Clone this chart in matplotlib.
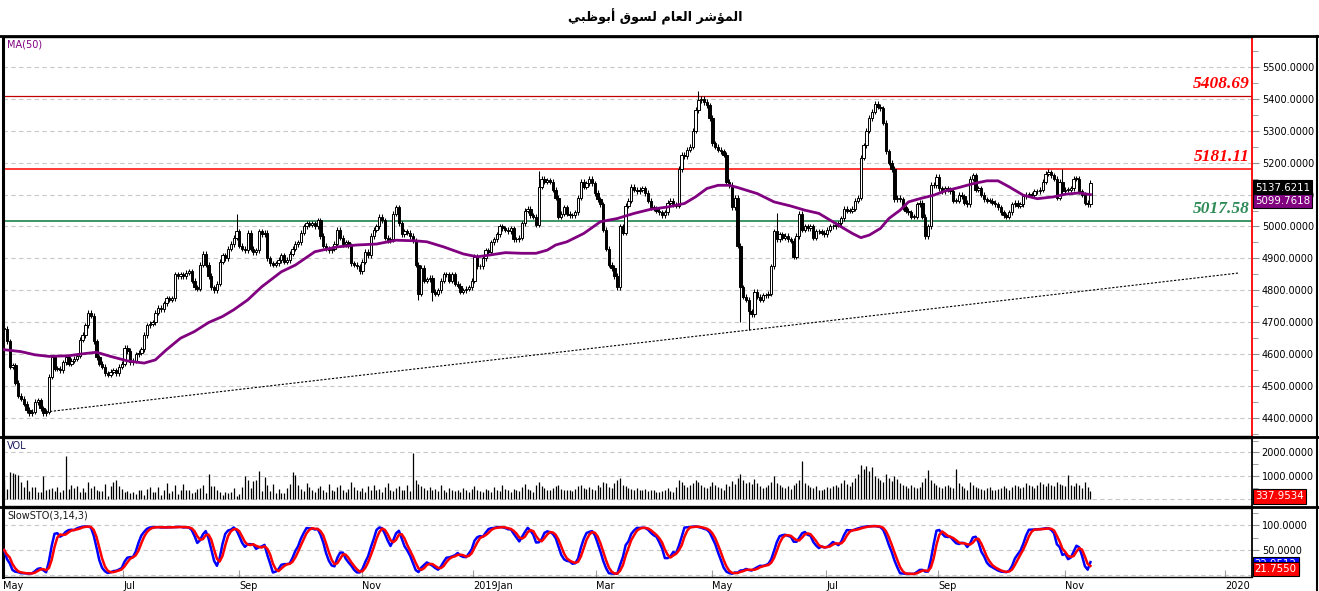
import numpy as np
import pandas as pd
import matplotlib
matplotlib.use("Agg")
import matplotlib.pyplot as plt
from matplotlib.ticker import MultipleLocator, FixedLocator, FormatStrFormatter

# daily closes of the index (May 2018 - Nov 2019)
closes = [
    4680, 4640, 4560, 4565, 4510, 4470, 4460, 4445, 4425, 4415,
    4420, 4450, 4455, 4430, 4415, 4420, 4530, 4590, 4555, 4555,
    4550, 4575, 4590, 4570, 4580, 4585, 4595, 4645, 4660, 4690,
    4730, 4720, 4640, 4590, 4570, 4560, 4540, 4535, 4545, 4550,
    4540, 4560, 4570, 4620, 4610, 4575, 4580, 4600, 4605, 4615,
    4660, 4690, 4695, 4700, 4730, 4745, 4740, 4760, 4775, 4770,
    4775, 4850, 4845, 4850, 4845, 4855, 4860, 4830, 4810, 4805,
    4880, 4915, 4880, 4845, 4810, 4800, 4820, 4890, 4910, 4900,
    4930, 4945, 4965, 4985, 4940, 4930, 4925, 4980, 4930, 4920,
    4925, 4985, 4975, 4980, 4900, 4885, 4880, 4885, 4895,
    4910, 4890, 4895, 4915, 4930, 4945, 4950, 4980, 5000, 5010,
    5005, 5010, 5000, 5020, 4970, 4940, 4930, 4925, 4930, 4945,
    4990, 4965, 4945, 4950, 4940, 4885, 4880, 4875, 4860, 4890,
    4920, 4910, 4970, 4990, 5000, 5030, 5020, 4965, 4955, 4960,
    5040, 5060, 5010, 4975, 4985, 4980, 4970, 4955, 4880, 4790,
    4870, 4830, 4835, 4840, 4795, 4790, 4800, 4830, 4850, 4850,
    4830, 4850, 4820, 4815, 4795, 4800, 4805, 4810, 4830, 4905,
    4875, 4875, 4900, 4925, 4920, 4950, 4960, 4975, 5000, 4995,
    4990, 4985, 4995, 4960, 4960, 4965, 5010, 5050, 5055, 5035,
    5030, 5005, 5125, 5150, 5140, 5145, 5140, 5115, 5090, 5030,
    5040, 5060, 5040, 5035, 5035, 5045, 5090, 5140, 5125, 5135,
    5150, 5135, 5105, 5085, 5070, 4990, 4930, 4880, 4870, 4845,
    4810, 5000, 4980, 5065, 5080, 5125, 5115, 5110, 5115, 5120,
    5105, 5080, 5060, 5055, 5050, 5045, 5035, 5045, 5075, 5080,
    5070, 5065, 5180, 5225, 5220, 5240, 5250, 5300, 5365, 5395,
    5400, 5390, 5380, 5340, 5260, 5250, 5240, 5235, 5225, 5140,
    5130, 5060, 5090, 4940, 4810, 4780, 4770, 4735, 4725, 4795,
    4780, 4770, 4785, 4785, 4790, 4875, 4985, 4960, 4975, 4965,
    4970, 4960, 4955, 4905, 4970, 5040, 4990, 5000, 4995, 5000,
    4965, 4985, 4985, 4980, 4975, 4990, 5000, 5000, 5005, 5010,
    5025, 5055, 5050, 5050, 5055, 5080, 5090, 5215, 5255, 5300,
    5340, 5360, 5385, 5375, 5370, 5325, 5235, 5200, 5180, 5085,
    5090, 5085, 5060, 5050, 5045, 5030, 5030, 5070, 5075, 5030,
    4970, 5000, 5130, 5130, 5155, 5120, 5110, 5120, 5115, 5110,
    5080, 5080, 5100, 5095, 5075, 5070, 5150, 5160, 5115, 5120,
    5100, 5085, 5080, 5080, 5075, 5070, 5060, 5045, 5035, 5030,
    5045, 5070, 5075, 5065, 5070, 5095, 5100, 5100, 5100, 5110,
    5110, 5115, 5140, 5165, 5170, 5160, 5150, 5090, 5140, 5110,
    5115, 5115, 5120, 5150, 5150, 5110, 5100, 5075, 5070, 5137.6211,
]

# long wicks that stand out on the chart
wick_hi_bars = [83, 191, 248, 276, 373, 378]
wick_hi_vals = [5040, 5173, 5425, 5041, 5181, 5181]
wick_lo_bars = [148, 153, 263, 266]
wick_lo_vals = [4770, 4765, 4702, 4676]

volume = [
    822, 425, 1163, 1134, 1078, 1035, 737, 510, 822, 355,
    510, 510, 312, 312, 993, 411, 440, 468, 340, 510,
    312, 397, 1843, 425, 610, 468, 567, 312, 468, 312,
    737, 468, 567, 383, 369, 355, 652, 142, 567, 752,
    822, 567, 425, 298, 369, 255, 312, 227, 397, 397,
    184, 425, 510, 298, 326, 510, 184, 397, 681, 255,
    355, 610, 227, 397, 638, 397, 397, 255, 326, 425,
    468, 610, 255, 1078, 567, 567, 397, 326, 184, 326,
    284, 326, 468, 142, 213, 510, 993, 822, 468, 780,
    822, 1205, 355, 964, 610, 355, 652, 255, 425, 284,
    284, 468, 652, 1149, 1035,
    620, 450, 360, 700, 520, 410,
    330, 480, 560, 390, 300, 650, 420, 350, 520, 610,
    380, 300, 450, 720, 540, 400, 360, 480, 330, 560,
    420, 600, 380, 450, 300, 520, 700, 410, 360, 480,
    550, 380, 420, 600, 350, 1980, 820, 650, 560, 480,
    400, 520, 380, 450, 340, 600, 420, 310, 470, 390,
    360, 420, 300, 500, 380, 330, 450, 560, 410, 370,
    320, 450, 380, 300, 520, 410, 350, 600, 430, 380,
    300, 460, 390, 340, 520, 640, 450, 380, 330, 600,
    720, 560, 480, 420, 380, 500, 560, 620, 450, 400,
    380, 420, 350, 460, 560, 620, 480, 430, 520, 460,
    420, 600, 520, 760, 680, 540, 480, 700, 820, 900,
    620, 560, 500, 450, 400, 480, 380, 420, 460, 350,
    380, 420, 330, 300, 360, 420, 480, 350, 300, 520,
    820, 760, 600, 540, 620, 700, 820, 760, 600, 520,
    480, 560, 720, 600, 540, 480, 420, 660, 560, 780,
    640, 900, 1100, 820, 700, 760, 650, 880, 700, 560,
    480, 520, 600, 760, 980, 700, 620, 520, 480, 560,
    460, 600, 700, 820, 1650, 700, 600, 520, 480, 560,
    420, 380, 460, 520, 480, 560, 620, 540, 700, 820,
    640, 560, 720, 900, 1100, 1450, 1300, 1420, 1200, 1380,
    1000, 900, 820, 760, 1100, 900, 780, 1000, 860, 700,
    620, 560, 500, 600, 540, 480, 520, 760, 900, 1250,
    820, 700, 600, 540, 480, 560, 620, 520, 480, 1300,
    700, 560, 480, 420, 760, 600, 520, 480, 440, 400,
    480, 520, 420, 380, 450, 500, 560, 480, 420, 520,
    600, 560, 480, 520, 680, 620, 560, 500, 600, 720,
    660, 580, 700, 620, 560, 760, 640, 600, 580, 1050,
    620, 560, 680, 600, 480, 760, 520, 337.9534,
]

# MA(50) line read at bar positions
ma_bars = [0, 6, 11, 16, 23, 28, 33, 38, 44, 50, 54, 58, 63, 68, 73, 78, 82, 87, 92, 99,
           104, 111, 119, 126, 133, 140, 147, 151, 157, 164, 169, 173, 179, 185, 190, 194,
           197, 201, 207, 213, 219, 225, 231, 237, 243, 247, 251, 255, 259, 262, 269, 275,
           281, 286, 291, 295, 298, 303, 306, 309, 313, 316, 320, 323, 327, 332, 336, 341,
           346, 351, 355, 359, 364, 369, 375, 379, 384, 388]
ma_vals = [4614, 4608, 4598, 4593, 4595, 4601, 4606, 4593, 4579, 4572, 4582, 4614, 4650, 4671,
           4699, 4718, 4739, 4770, 4811, 4858, 4879, 4921, 4936, 4942, 4945, 4957, 4955, 4952,
           4936, 4914, 4905, 4910, 4918, 4916, 4916, 4926, 4942, 4952, 4978, 5015, 5025, 5041,
           5054, 5061, 5072, 5093, 5119, 5129, 5129, 5122, 5103, 5077, 5064, 5051, 5041, 5020,
           5004, 4978, 4965, 4973, 4994, 5025, 5051, 5077, 5087, 5098, 5111, 5122, 5134, 5143,
           5143, 5124, 5098, 5087, 5093, 5101, 5105, 5099.7618]

month_pos = [-0.3, 42.5, 83.9, 127.9, 167.5, 211.4, 252.9, 293.6, 333.6, 378.9, 436.1]
month_labels = ['May', 'Jul', 'Sep', 'Nov', '2019Jan', 'Mar', 'May', 'Jul', 'Sep', 'Nov', '2020']

levels = [5408.69, 5181.11, 5017.58]
level_colors = ['#c00000', '#ff2a2a', '#2e8b57']
label_colors = ['#ff0000', '#ff0000', '#2e8b57']

trend_x = [15, 440.7]
trend_y = [4419, 4854]

sto_last = [22.9512, 21.7550]   # readouts on the right scale (blue, red)

title = 'المؤشر العام لسوق أبوظبي'

# tiny arabic shaper: presentation forms (isolated, final, initial, medial)
FORMS = {
    'ا': (0xFE8D, 0xFE8E), 'أ': (0xFE83, 0xFE84), 'ؤ': (0xFE85, 0xFE86),
    'ر': (0xFEAD, 0xFEAE), 'و': (0xFEED, 0xFEEE),
    'ل': (0xFEDD, 0xFEDE, 0xFEDF, 0xFEE0), 'م': (0xFEE1, 0xFEE2, 0xFEE3, 0xFEE4),
    'ش': (0xFEB5, 0xFEB6, 0xFEB7, 0xFEB8), 'ع': (0xFEC9, 0xFECA, 0xFECB, 0xFECC),
    'س': (0xFEB1, 0xFEB2, 0xFEB3, 0xFEB4), 'ق': (0xFED5, 0xFED6, 0xFED7, 0xFED8),
    'ب': (0xFE8F, 0xFE90, 0xFE91, 0xFE92), 'ظ': (0xFEC5, 0xFEC6, 0xFEC7, 0xFEC8),
    'ي': (0xFEF1, 0xFEF2, 0xFEF3, 0xFEF4),
}


def shape_arabic(text):
    out = []
    for k, ch in enumerate(text):
        f = FORMS.get(ch)
        if f is None:
            out.append(ch)
            continue
        prev = text[k - 1] if k > 0 else ''
        nxt = text[k + 1] if k + 1 < len(text) else ''
        jp = prev in FORMS and len(FORMS[prev]) == 4
        jn = len(f) == 4 and nxt in FORMS
        if jp and jn:
            code = f[3]
        elif jp:
            code = f[1]
        elif jn:
            code = f[2]
        else:
            code = f[0]
        out.append(chr(code))
    return ''.join(out)[::-1]


plt.rcParams['font.family'] = ['DejaVu Sans']

W, H = 1319, 591
fig = plt.figure(figsize=(W / 100, H / 100), dpi=100)
ax_p = fig.add_axes([3 / W, (H - 436) / H, 1249 / W, 399 / H])
ax_v = fig.add_axes([3 / W, (H - 506) / H, 1249 / W, 68 / H])
ax_s = fig.add_axes([3 / W, (H - 577) / H, 1249 / W, 69 / H])

c = np.array(closes, dtype=float)
n = len(c)
x = np.arange(n)
o = np.r_[c[0], c[:-1]]
wick = 8
hi = np.maximum(o, c) + wick
lo = np.minimum(o, c) - wick
hi[wick_hi_bars] = np.maximum(hi[wick_hi_bars], wick_hi_vals)
lo[wick_lo_bars] = np.minimum(lo[wick_lo_bars], wick_lo_vals)
up = c >= o

grid_kw = dict(color='#c8c8c8', lw=0.8, ls=(0, (4, 3)), zorder=0)

# ---- price panel ----
for lv in range(4400, 5600, 100):
    ax_p.axhline(lv, **grid_kw)
ax_p.vlines(x, lo, hi, color='black', lw=0.75, zorder=2)
ax_p.bar(x, np.maximum(np.abs(c - o), 1.5), bottom=np.minimum(o, c), width=0.85,
         color=np.where(up, 'white', 'black'), edgecolor='black', linewidth=0.7, zorder=3)
ax_p.plot(ma_bars, ma_vals, color='#800080', lw=2.0, zorder=4)
for lv, col, lcol, lw in zip(levels, level_colors, label_colors, [0.9, 1.3, 1.3]):
    ax_p.axhline(lv, color=col, lw=lw, zorder=1)
    ax_p.annotate(f'{lv:.2f}', xy=(1, lv), xycoords=('axes fraction', 'data'),
                  xytext=(-2, 3), textcoords='offset points', ha='right', va='bottom',
                  fontsize=12.5, fontweight='bold', fontstyle='italic',
                  family='Liberation Serif', color=lcol)
ax_p.plot(trend_x, trend_y, color='black', lw=0.8, ls=(0, (2, 1.5)), zorder=1)

ax_p.set_xlim(-0.4, 445.7)
ax_p.set_ylim(4343.6, 5593.6)
ax_p.annotate('MA(50)', xy=(0, 1), xycoords='axes fraction', xytext=(3, -2),
              textcoords='offset points', va='top', fontsize=7, color='#800080')

box = dict(boxstyle='square,pad=0.22', lw=0.8)
ax_p.annotate(f'{c[-1]:.4f}', xy=(1, c[-1]), xycoords=('axes fraction', 'data'),
              xytext=(2, 0), textcoords='offset points', va='top', ha='left', fontsize=7.4,
              color='white', bbox=dict(box, fc='black', ec='black'), annotation_clip=False, zorder=6)
ax_p.annotate(f'{ma_vals[-1]:.4f}', xy=(1, ma_vals[-1]), xycoords=('axes fraction', 'data'),
              xytext=(2, -1), textcoords='offset points', va='top', ha='left', fontsize=7.4,
              color='white', bbox=dict(box, fc='#800080', ec='black'), annotation_clip=False, zorder=6)

# ---- volume panel ----
for lv in [0, 1000, 2000]:
    ax_v.axhline(lv, **grid_kw)
ax_v.vlines(np.arange(len(volume)), 0, volume, color='black', lw=0.9, zorder=2)
ax_v.set_xlim(-0.4, 445.7)
ax_v.set_ylim(-280, 2609)
ax_v.annotate('VOL', xy=(0, 1), xycoords='axes fraction', xytext=(3, -2),
              textcoords='offset points', va='top', fontsize=7, color='#1a1a60')
ax_v.annotate(f'{volume[-1]:.4f}', xy=(1, volume[-1]), xycoords=('axes fraction', 'data'),
              xytext=(2, 0), textcoords='offset points', va='top', ha='left', fontsize=7.4,
              color='white', bbox=dict(box, fc='#ff0000', ec='black'), annotation_clip=False, zorder=6)

# ---- slow stochastic (3,14,3) ----
hh = pd.Series(hi).rolling(14, min_periods=1).max()
ll = pd.Series(lo).rolling(14, min_periods=1).min()
k_raw = 100 * (pd.Series(c) - ll) / (hh - ll)
k_slow = k_raw.rolling(3, min_periods=1).mean()
d_line = k_slow.rolling(3, min_periods=1).mean()

for lv in [0, 50, 100]:
    ax_s.axhline(lv, **grid_kw)
ax_s.plot(x, k_slow, color='#0000ff', lw=1.8, zorder=3)
ax_s.plot(x, d_line, color='#ff0000', lw=1.8, zorder=4)
ax_s.set_xlim(-0.4, 445.7)
ax_s.set_ylim(-4, 134)
ax_s.annotate('SlowSTO(3,14,3)', xy=(0, 1), xycoords='axes fraction', xytext=(3, -2),
              textcoords='offset points', va='top', fontsize=7, color='#1a1a1a')
ax_s.annotate(f'{sto_last[0]:.4f}', xy=(1, sto_last[0]), xycoords=('axes fraction', 'data'),
              xytext=(2, 3), textcoords='offset points', va='top', ha='left', fontsize=7.4,
              color='white', bbox=dict(box, fc='#0000ff', ec='black'), annotation_clip=False, zorder=6)
ax_s.annotate(f'{sto_last[1]:.4f}', xy=(1, sto_last[1]), xycoords=('axes fraction', 'data'),
              xytext=(2, 0), textcoords='offset points', va='top', ha='left', fontsize=7.4,
              color='white', bbox=dict(box, fc='#ff0000', ec='black'), annotation_clip=False, zorder=7)

# ---- axes cosmetics ----
for ax, major, minor, ticks in [(ax_p, 100, 50, None), (ax_v, 1000, 500, [1000, 2000]),
                                (ax_s, 50, 25, [50, 100])]:
    ax.yaxis.tick_right()
    if ticks is None:
        ax.yaxis.set_major_locator(MultipleLocator(major))
    else:
        ax.yaxis.set_major_locator(FixedLocator(ticks))
    ax.yaxis.set_minor_locator(MultipleLocator(minor))
    ax.yaxis.set_major_formatter(FormatStrFormatter('%.4f'))
    ax.tick_params(axis='y', which='both', direction='out', length=5, color='#909090',
                   labelsize=7, pad=2, labelcolor='black')
    ax.tick_params(axis='y', which='minor', length=4)
    for side in ['left', 'top', 'bottom']:
        ax.spines[side].set_linewidth(1.0)
        ax.spines[side].set_color('black')
    ax.spines['left'].set_linewidth(2.2)
    ax.spines['right'].set_linewidth(1.3)
    ax.spines['right'].set_color('black')
    ax.set_xticks([])

ax_p.spines['right'].set_color('#ff0000')

ax_s.set_xticks(month_pos)
ax_s.set_xticklabels(month_labels, ha='left')
ax_s.tick_params(axis='x', direction='in', length=5, color='#a0a0a0', labelsize=7, pad=3)

# outer frame and panel separators spanning the full width
for yy in [36, 437, 507]:
    fig.add_artist(plt.Line2D([0, 1318 / W], [1 - yy / H, 1 - yy / H], color='black', lw=2.0,
                              transform=fig.transFigure))
fig.add_artist(plt.Line2D([1317 / W, 1317 / W], [0, 1 - 36 / H], color='black', lw=1.5,
                          transform=fig.transFigure))

fig.text(655 / W, 1 - 17 / H, shape_arabic(title), ha='center', va='center',
         fontsize=9.2, fontweight='bold')

fig.savefig('out.png', dpi=100)
